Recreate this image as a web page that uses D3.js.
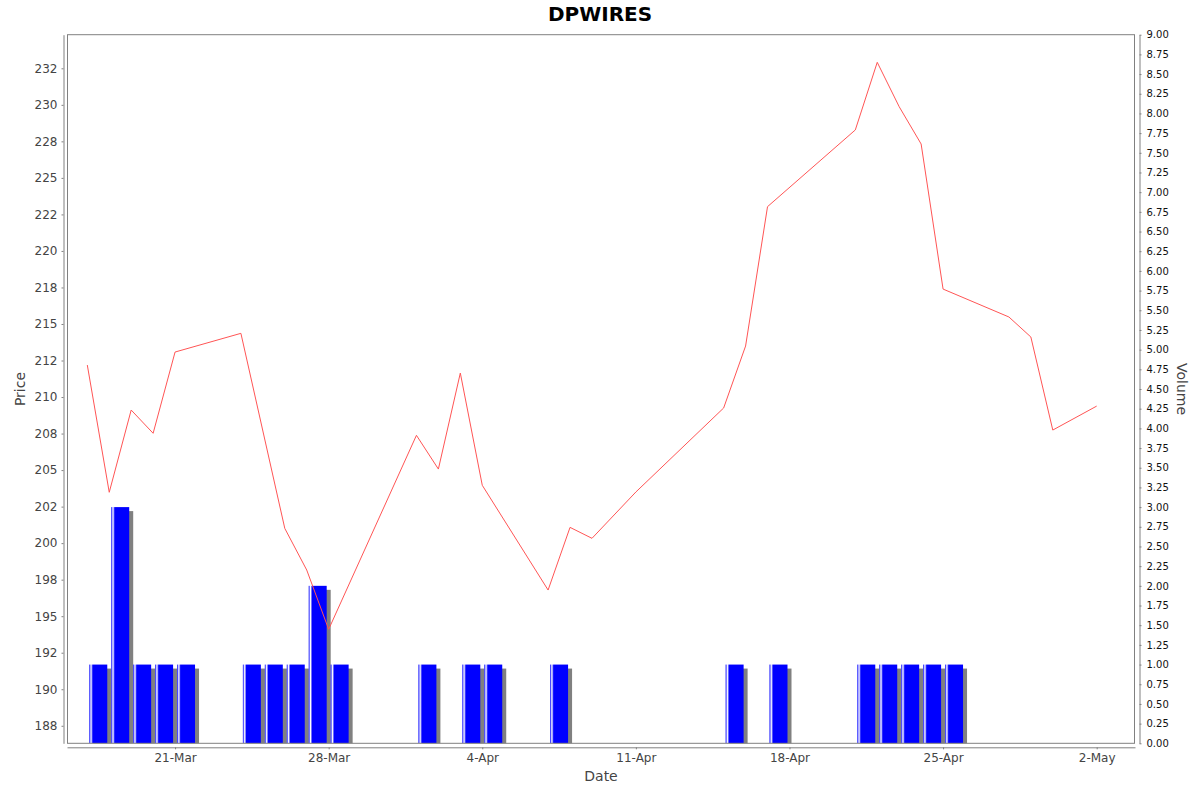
<!DOCTYPE html>
<html><head><meta charset="utf-8">
<script src="https://cdn.jsdelivr.net/npm/d3@7/dist/d3.min.js"></script>
<style>
body{margin:0;background:#fff}
svg{display:block}
text{font-family:"DejaVu Sans",sans-serif}
</style>
</head><body>
<svg id="chart" width="1200" height="792"></svg>
<script>
// ---------------- data ----------------
const chartTitle = "DPWIRES";
const priceDates = ["2022-03-17","2022-03-18","2022-03-19","2022-03-20","2022-03-21","2022-03-24","2022-03-26","2022-03-27","2022-03-28",
  "2022-04-01","2022-04-02","2022-04-03","2022-04-04","2022-04-07","2022-04-08","2022-04-09","2022-04-11","2022-04-15","2022-04-16",
  "2022-04-17","2022-04-21","2022-04-22","2022-04-23","2022-04-24","2022-04-25","2022-04-28","2022-04-29","2022-04-30","2022-05-02"];
const priceValues = [212.19,203.48,209.11,207.52,213.08,214.36,201.01,198.16,194.10,
  207.38,205.07,211.64,203.96,196.79,201.08,200.33,203.50,209.25,213.49,
  223.03,228.28,232.91,229.87,227.32,217.39,215.48,214.11,207.74,209.38];
const volumeDates = ["2022-03-17","2022-03-18","2022-03-19","2022-03-20","2022-03-21","2022-03-24","2022-03-25","2022-03-26","2022-03-27","2022-03-28",
  "2022-04-01","2022-04-03","2022-04-04","2022-04-07","2022-04-15","2022-04-17","2022-04-21","2022-04-22","2022-04-23","2022-04-24","2022-04-25"];
const volumeValues = [1,3,1,1,1,1,1,1,2,1, 1,1,1,1,1,1,1,1,1,1,1];
const priceTickValues = [187.5,190,192.5,195,197.5,200,202.5,205,207.5,210,212.5,215,217.5,220,222.5,225,227.5,230,232.5];
const priceTickLabels = ["188","190","192","195","198","200","202","205","208","210","212","215","218","220","222","225","228","230","232"];
const volumeTickValues = [0,0.25,0.5,0.75,1,1.25,1.5,1.75,2,2.25,2.5,2.75,3,3.25,3.5,3.75,4,4.25,4.5,4.75,5,5.25,5.5,5.75,6,6.25,6.5,6.75,7,7.25,7.5,7.75,8,8.25,8.5,8.75,9];
const dateTickValues = ["2022-03-21","2022-03-28","2022-04-04","2022-04-11","2022-04-18","2022-04-25","2022-05-02"];
const priceDomain = [186.3, 234.8];
const volumeDomain = [0, 9];

// ---------------- layout ----------------
const L = 67, R = 1135, T = 34.7, B = 743.3;
const DAY = 86400000;
const parse = d3.utcParse("%Y-%m-%d");
const pDates = priceDates.map(parse);
const vDates = volumeDates.map(parse);
const first = pDates[0];
const xStart = new Date(+first - 0.925 * DAY);
const xEnd = new Date(+xStart + (R - L) / 21.943 * DAY);

const x = d3.scaleUtc().domain([xStart, xEnd]).range([L, R]);
const yP = d3.scaleLinear().domain(priceDomain).range([B, T]);
const yV = d3.scaleLinear().domain(volumeDomain).range([B, T]);

const svg = d3.select("#chart");
const axisColor = "#808080";

const defs = svg.append("defs");
defs.append("clipPath").attr("id","plotClip").append("rect")
  .attr("x", L).attr("y", T).attr("width", R - L).attr("height", B - T);
const grad = defs.append("linearGradient").attr("id","barGrad")
  .attr("x1","0").attr("x2","1").attr("y1","0").attr("y2","0");
grad.append("stop").attr("offset","0").attr("stop-color","#0000ff");
grad.append("stop").attr("offset","0.1").attr("stop-color","#ffffff");
grad.append("stop").attr("offset","0.2").attr("stop-color","#0000ff");
grad.append("stop").attr("offset","1").attr("stop-color","#0000ff");

// title
svg.append("text").attr("x", 600).attr("y", 21).attr("text-anchor","middle")
  .attr("font-size", 20).attr("font-weight","bold").attr("fill","#000").text(chartTitle);

// plot area
const plot = svg.append("g").attr("clip-path","url(#plotClip)");

// bars (volume)
const bars = volumeDates.map((d, i) => ({ d: vDates[i], v: volumeValues[i] }));
const bx0 = d => x(new Date(+d + 0.09 * DAY));
const bx1 = d => x(new Date(+d + 0.91 * DAY));
plot.selectAll("rect.shadow").data(bars).join("rect").attr("class","shadow")
  .attr("x", b => bx0(b.d) + 4).attr("y", b => yV(b.v) + 4)
  .attr("width", b => bx1(b.d) - bx0(b.d)).attr("height", b => yV(0) - yV(b.v))
  .attr("fill", "#808080");
plot.selectAll("rect.bar").data(bars).join("rect").attr("class","bar")
  .attr("x", b => bx0(b.d)).attr("y", b => yV(b.v))
  .attr("width", b => bx1(b.d) - bx0(b.d)).attr("height", b => yV(0) - yV(b.v))
  .attr("fill", "url(#barGrad)");

// price line
const pts = pDates.map((d, i) => [d, priceValues[i]]);
plot.append("path").datum(pts)
  .attr("d", d3.line().x(p => x(p[0])).y(p => yP(p[1])))
  .attr("fill","none").attr("stroke","#ff5555").attr("stroke-width",1);

// plot border
svg.append("rect").attr("x", L + 0.5).attr("y", T).attr("width", R - L - 1).attr("height", B - T)
  .attr("fill","none").attr("stroke", axisColor).attr("stroke-width",1);

// left axis
const leftAxis = d3.axisLeft(yP).tickValues(priceTickValues)
  .tickFormat((d, i) => priceTickLabels[i]).tickSize(2).tickSizeOuter(0).tickPadding(4);
const gl = svg.append("g").attr("transform", `translate(${L - 3.5},0)`).call(leftAxis);
gl.select(".domain").attr("stroke", axisColor);
gl.selectAll(".tick line").attr("stroke", axisColor);
gl.selectAll(".tick text").attr("fill","#444").attr("font-size",12).attr("font-family","DejaVu Sans");

// right axis
const rightAxis = d3.axisRight(yV).tickValues(volumeTickValues)
  .tickFormat(d3.format(".2f")).tickSize(2).tickSizeOuter(0).tickPadding(5);
const gr = svg.append("g").attr("transform", `translate(${R + 4.5},0)`).call(rightAxis);
gr.select(".domain").attr("stroke", axisColor);
gr.selectAll(".tick line").attr("stroke", axisColor);
gr.selectAll(".tick text").attr("fill","#111").attr("font-size",10).attr("font-family","DejaVu Sans");

// bottom axis
const bottomAxis = d3.axisBottom(x).tickValues(dateTickValues.map(parse))
  .tickFormat(d3.utcFormat("%-d-%b")).tickSize(2).tickSizeOuter(0).tickPadding(4);
const gb = svg.append("g").attr("transform", `translate(0,${B + 4})`).call(bottomAxis);
gb.select(".domain").attr("stroke", axisColor);
gb.selectAll(".tick line").attr("stroke", axisColor);
gb.selectAll(".tick text").attr("fill","#444").attr("font-size",12).attr("font-family","DejaVu Sans");

// axis titles
svg.append("text").attr("transform", `translate(25,${(T + B) / 2}) rotate(-90)`)
  .attr("text-anchor","middle").attr("font-size",14).attr("fill","#444").text("Price");
svg.append("text").attr("transform", `translate(1177,${(T + B) / 2}) rotate(90)`)
  .attr("text-anchor","middle").attr("font-size",14).attr("fill","#444").text("Volume");
svg.append("text").attr("x", (L + R) / 2).attr("y", 781)
  .attr("text-anchor","middle").attr("font-size",14).attr("fill","#444").text("Date");
</script>
</body></html>
